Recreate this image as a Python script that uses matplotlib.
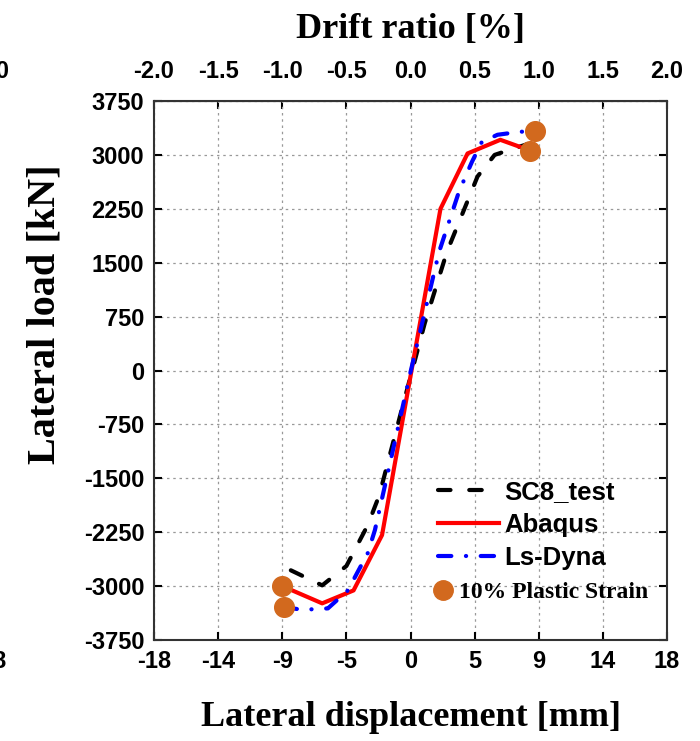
import matplotlib.pyplot as plt
import numpy as np
from matplotlib.lines import Line2D

# values (displacement in mm, load in kN)
test_disp = [-8.4, -6.2, -4.5, -3.0, -2.2, -0.64, 1.0, 2.55, 4.7, 5.9, 6.8, 8.2]
test_load = [-2780, -2990, -2720, -2150, -1740, -560, 660, 1650, 2700, 3000, 3060, 3150]

abaqus_disp = [-9.0, -6.2, -4.0, -2.0, 2.1, 4.0, 6.3, 8.4]
abaqus_load = [-3000, -3240, -3060, -2290, 2250, 3020, 3210, 3060]

dyna_disp = [-8.9, -7.6, -5.8, -4.4, -3.0, -2.5, 0.0, 2.0, 3.4, 4.3, 5.0, 6.1, 7.6, 8.7]
dyna_load = [-3290, -3330, -3310, -3060, -2540, -2220, -20, 1650, 2490, 2900, 3180, 3280, 3320, 3335]

strain_disp = [-9.0, -8.9, 8.4, 8.7]
strain_load = [-3000, -3290, 3058, 3335]

x_ticks = [-18, -13.5, -9, -4.5, 0, 4.5, 9, 13.5, 18]
x_labels = ['-18', '-14', '-9', '-5', '0', '5', '9', '14', '18']
y_ticks = [-3750, -3000, -2250, -1500, -750, 0, 750, 1500, 2250, 3000, 3750]
drift_ticks = [-2.0, -1.5, -1.0, -0.5, 0.0, 0.5, 1.0, 1.5, 2.0]

plt.rcParams['font.family'] = 'Liberation Sans'
plt.rcParams['font.weight'] = 'bold'
plt.rcParams['axes.unicode_minus'] = False

fig = plt.figure(figsize=(7.0, 7.41), dpi=100)
ax = fig.add_axes([0.22, 0.1363, 0.733, 0.7274])

orange = '#D2691E'
dash_black = (0, (3, 4.5))
dash_blue = (0, (3.2, 3.5, 0.05, 3.5))
ax.plot(test_disp, test_load, color='black', lw=3, linestyle=dash_black,
        dash_capstyle='round', zorder=3)
ax.plot(abaqus_disp, abaqus_load, color='red', lw=3, zorder=4)
ax.plot(dyna_disp, dyna_load, color='blue', lw=3, linestyle=dash_blue,
        dash_capstyle='round', zorder=5)
ax.scatter(strain_disp, strain_load, s=200, color=orange, zorder=6)

ax.set_xlim(-18, 18)
ax.set_ylim(-3750, 3750)
ax.set_xticks(x_ticks)
ax.set_xticklabels(x_labels)
ax.set_yticks(y_ticks)
ax.grid(True, linestyle=(0, (2, 3)), color='0.6', lw=0.9)
ax.tick_params(direction='in', length=6, width=1.5, labelsize=17, pad=7,
               right=True, top=False)
for s in ax.spines.values():
    s.set_linewidth(1.5)
    s.set_color('0.2')

serif = {'family': 'Liberation Serif', 'weight': 'bold'}
ax.set_xlabel('Lateral displacement [mm]', fontdict=serif, fontsize=26, labelpad=20)
ax.set_ylabel('Lateral load [kN]', fontdict=serif, fontsize=29)
ax.yaxis.set_label_coords(-0.177, 0.605)

top = ax.secondary_xaxis('top', functions=(lambda d: d / 9.0, lambda r: r * 9.0))
top.set_xticks(drift_ticks)
top.set_xticklabels(['%.1f' % t for t in drift_ticks])
top.tick_params(direction='in', length=6, width=1.5, labelsize=17, pad=13)
top.set_xlabel('Drift ratio [%]', fontdict=serif, fontsize=26, labelpad=16)

line_handles = [
    Line2D([], [], color='black', lw=3, linestyle=dash_black, dash_capstyle='round'),
    Line2D([], [], color='red', lw=3),
    Line2D([], [], color='blue', lw=3, linestyle=dash_blue, dash_capstyle='round'),
]
leg1 = ax.legend(line_handles, ['SC8_test', 'Abaqus', 'Ls-Dyna'],
                 loc='upper left', bbox_to_anchor=(0.553, 0.297), frameon=False,
                 fontsize=18.5, handlelength=2.4, handletextpad=0.2,
                 labelspacing=0.35, borderpad=0, borderaxespad=0)
ax.add_artist(leg1)

dot_handle = Line2D([], [], color=orange, marker='o', markersize=14, linestyle='none')
leg2 = ax.legend([dot_handle], ['10% Plastic Strain'],
                 loc='upper left', bbox_to_anchor=(0.542, 0.108), frameon=False,
                 prop={'family': 'Liberation Serif', 'weight': 'bold', 'size': 17},
                 handlelength=0.9, handletextpad=0.25, borderpad=0, borderaxespad=0)

# clipped leftovers of neighbouring labels at the left edge
fig.text(9 / 700, 1 - 71 / 741, '2.0', ha='right', va='center', fontsize=17)
fig.text(7 / 700, 1 - 661 / 741, '18', ha='right', va='center', fontsize=17)

fig.savefig('out.png', dpi=100)
